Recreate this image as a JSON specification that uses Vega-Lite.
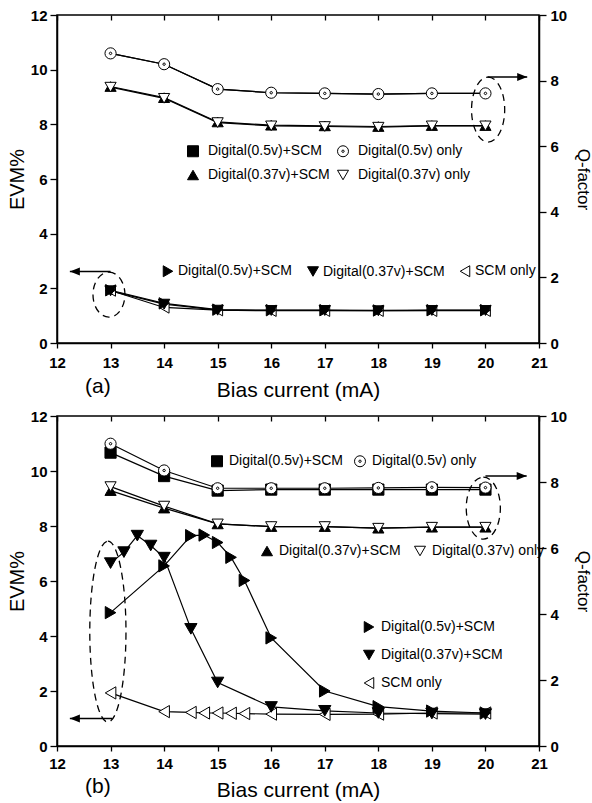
{
"$schema": "https://vega.github.io/schema/vega-lite/v6.json",
"padding": {"left": 6, "top": 7, "right": 0, "bottom": 0},
"background": "white",
"config": {
  "font": "Liberation Sans",
  "view": {"stroke": "black", "strokeWidth": 1.5},
  "axis": {"domainColor": "black", "domainWidth": 1.5, "tickColor": "black", "tickWidth": 1.3, "labelColor": "black", "labelFont": "Liberation Sans", "labelFontSize": 15, "labelFontWeight": "bold", "titleColor": "black", "titleFont": "Liberation Sans", "titleFontSize": 21, "titleFontWeight": "normal", "grid": false, "labelFlush": false, "labelOverlap": false},
  "legend": {"labelFont": "Liberation Sans", "labelFontSize": 14, "labelColor": "black", "symbolSize": 121, "symbolStrokeWidth": 1, "symbolStrokeColor": "black", "padding": 0}
},
"datasets": {
  "qa": [
    {"s":"Digital(0.5v)+SCM","x":13,"v":8.83},{"s":"Digital(0.5v)+SCM","x":14,"v":8.5},{"s":"Digital(0.5v)+SCM","x":15,"v":7.74},{"s":"Digital(0.5v)+SCM","x":16,"v":7.63},{"s":"Digital(0.5v)+SCM","x":17,"v":7.61},{"s":"Digital(0.5v)+SCM","x":18,"v":7.59},{"s":"Digital(0.5v)+SCM","x":19,"v":7.61},{"s":"Digital(0.5v)+SCM","x":20,"v":7.61},
    {"s":"Digital(0.5v) only","x":13,"v":8.83},{"s":"Digital(0.5v) only","x":14,"v":8.5},{"s":"Digital(0.5v) only","x":15,"v":7.74},{"s":"Digital(0.5v) only","x":16,"v":7.63},{"s":"Digital(0.5v) only","x":17,"v":7.61},{"s":"Digital(0.5v) only","x":18,"v":7.59},{"s":"Digital(0.5v) only","x":19,"v":7.61},{"s":"Digital(0.5v) only","x":20,"v":7.61},
    {"s":"Digital(0.37v)+SCM","x":13,"v":7.82},{"s":"Digital(0.37v)+SCM","x":14,"v":7.48},{"s":"Digital(0.37v)+SCM","x":15,"v":6.74},{"s":"Digital(0.37v)+SCM","x":16,"v":6.64},{"s":"Digital(0.37v)+SCM","x":17,"v":6.62},{"s":"Digital(0.37v)+SCM","x":18,"v":6.6},{"s":"Digital(0.37v)+SCM","x":19,"v":6.63},{"s":"Digital(0.37v)+SCM","x":20,"v":6.63},
    {"s":"Digital(0.37v) only","x":13,"v":7.8},{"s":"Digital(0.37v) only","x":14,"v":7.46},{"s":"Digital(0.37v) only","x":15,"v":6.72},{"s":"Digital(0.37v) only","x":16,"v":6.62},{"s":"Digital(0.37v) only","x":17,"v":6.6},{"s":"Digital(0.37v) only","x":18,"v":6.58},{"s":"Digital(0.37v) only","x":19,"v":6.62},{"s":"Digital(0.37v) only","x":20,"v":6.62}
  ],
  "ea": [
    {"s":"SCM only","x":13,"v":1.92},{"s":"SCM only","x":14,"v":1.3},{"s":"SCM only","x":15,"v":1.2},{"s":"SCM only","x":16,"v":1.18},{"s":"SCM only","x":17,"v":1.18},{"s":"SCM only","x":18,"v":1.18},{"s":"SCM only","x":19,"v":1.18},{"s":"SCM only","x":20,"v":1.18},
    {"s":"Digital(0.5v)+SCM","x":13,"v":1.93},{"s":"Digital(0.5v)+SCM","x":14,"v":1.45},{"s":"Digital(0.5v)+SCM","x":15,"v":1.22},{"s":"Digital(0.5v)+SCM","x":16,"v":1.2},{"s":"Digital(0.5v)+SCM","x":17,"v":1.2},{"s":"Digital(0.5v)+SCM","x":18,"v":1.19},{"s":"Digital(0.5v)+SCM","x":19,"v":1.2},{"s":"Digital(0.5v)+SCM","x":20,"v":1.2},
    {"s":"Digital(0.37v)+SCM","x":13,"v":1.91},{"s":"Digital(0.37v)+SCM","x":14,"v":1.42},{"s":"Digital(0.37v)+SCM","x":15,"v":1.2},{"s":"Digital(0.37v)+SCM","x":16,"v":1.19},{"s":"Digital(0.37v)+SCM","x":17,"v":1.19},{"s":"Digital(0.37v)+SCM","x":18,"v":1.18},{"s":"Digital(0.37v)+SCM","x":19,"v":1.19},{"s":"Digital(0.37v)+SCM","x":20,"v":1.19}
  ],
  "qb": [
    {"s":"Digital(0.5v)+SCM","x":13,"v":8.89},{"s":"Digital(0.5v)+SCM","x":14,"v":8.18},{"s":"Digital(0.5v)+SCM","x":15,"v":7.74},{"s":"Digital(0.5v)+SCM","x":16,"v":7.77},{"s":"Digital(0.5v)+SCM","x":17,"v":7.77},{"s":"Digital(0.5v)+SCM","x":18,"v":7.77},{"s":"Digital(0.5v)+SCM","x":19,"v":7.77},{"s":"Digital(0.5v)+SCM","x":20,"v":7.77},
    {"s":"Digital(0.5v) only","x":13,"v":9.16},{"s":"Digital(0.5v) only","x":14,"v":8.35},{"s":"Digital(0.5v) only","x":15,"v":7.81},{"s":"Digital(0.5v) only","x":16,"v":7.81},{"s":"Digital(0.5v) only","x":17,"v":7.81},{"s":"Digital(0.5v) only","x":18,"v":7.82},{"s":"Digital(0.5v) only","x":19,"v":7.84},{"s":"Digital(0.5v) only","x":20,"v":7.83},
    {"s":"Digital(0.37v)+SCM","x":13,"v":7.74},{"s":"Digital(0.37v)+SCM","x":14,"v":7.21},{"s":"Digital(0.37v)+SCM","x":15,"v":6.73},{"s":"Digital(0.37v)+SCM","x":16,"v":6.65},{"s":"Digital(0.37v)+SCM","x":17,"v":6.65},{"s":"Digital(0.37v)+SCM","x":18,"v":6.6},{"s":"Digital(0.37v)+SCM","x":19,"v":6.63},{"s":"Digital(0.37v)+SCM","x":20,"v":6.63},
    {"s":"Digital(0.37v) only","x":13,"v":7.86},{"s":"Digital(0.37v) only","x":14,"v":7.27},{"s":"Digital(0.37v) only","x":15,"v":6.73},{"s":"Digital(0.37v) only","x":16,"v":6.65},{"s":"Digital(0.37v) only","x":17,"v":6.65},{"s":"Digital(0.37v) only","x":18,"v":6.6},{"s":"Digital(0.37v) only","x":19,"v":6.63},{"s":"Digital(0.37v) only","x":20,"v":6.63}
  ],
  "eb": [
    {"s":"SCM only","x":13,"v":1.93},{"s":"SCM only","x":14,"v":1.25},{"s":"SCM only","x":14.5,"v":1.22},{"s":"SCM only","x":14.75,"v":1.2},{"s":"SCM only","x":15,"v":1.2},{"s":"SCM only","x":15.25,"v":1.19},{"s":"SCM only","x":15.5,"v":1.18},{"s":"SCM only","x":16,"v":1.16},{"s":"SCM only","x":17,"v":1.15},{"s":"SCM only","x":18,"v":1.16},{"s":"SCM only","x":19,"v":1.2},{"s":"SCM only","x":20,"v":1.2},
    {"s":"Digital(0.5v)+SCM","x":13,"v":4.85},{"s":"Digital(0.5v)+SCM","x":14,"v":6.55},{"s":"Digital(0.5v)+SCM","x":14.5,"v":7.65},{"s":"Digital(0.5v)+SCM","x":14.75,"v":7.67},{"s":"Digital(0.5v)+SCM","x":15,"v":7.4},{"s":"Digital(0.5v)+SCM","x":15.25,"v":6.86},{"s":"Digital(0.5v)+SCM","x":15.5,"v":6.02},{"s":"Digital(0.5v)+SCM","x":16,"v":3.93},{"s":"Digital(0.5v)+SCM","x":17,"v":2.0},{"s":"Digital(0.5v)+SCM","x":18,"v":1.43},{"s":"Digital(0.5v)+SCM","x":19,"v":1.27},{"s":"Digital(0.5v)+SCM","x":20,"v":1.2},
    {"s":"Digital(0.37v)+SCM","x":13,"v":6.65},{"s":"Digital(0.37v)+SCM","x":13.25,"v":7.05},{"s":"Digital(0.37v)+SCM","x":13.5,"v":7.65},{"s":"Digital(0.37v)+SCM","x":13.75,"v":7.29},{"s":"Digital(0.37v)+SCM","x":14,"v":6.85},{"s":"Digital(0.37v)+SCM","x":14.5,"v":4.26},{"s":"Digital(0.37v)+SCM","x":15,"v":2.31},{"s":"Digital(0.37v)+SCM","x":16,"v":1.42},{"s":"Digital(0.37v)+SCM","x":17,"v":1.28},{"s":"Digital(0.37v)+SCM","x":18,"v":1.2},{"s":"Digital(0.37v)+SCM","x":19,"v":1.18},{"s":"Digital(0.37v)+SCM","x":20,"v":1.16}
  ],
  "arr": [
    {"p":"a","d":"L","x":13,"x2":12.24,"v":2.62},
    {"p":"a","d":"R","x":20.04,"x2":20.78,"v":9.73},
    {"p":"b","d":"L","x":13.03,"x2":12.24,"v":1.0},
    {"p":"b","d":"R","x":20,"x2":20.77,"v":9.82}
  ],
  "ell": [
    {"p":"a","d":"L","x":12.97,"v":1.77},
    {"p":"a","d":"R","x":20.05,"v":8.54},
    {"p":"b","d":"L","x":12.95,"v":4.16},
    {"p":"b","d":"R","x":19.96,"v":8.65}
  ]
},
"spacing": 7,
"resolve": {"scale": {"x": "independent", "y": "independent", "shape": "independent", "fill": "independent", "stroke": "independent"}},
"vconcat": [
{
  "width": 482, "height": 328,
  "title": {"text": "(a)", "orient": "bottom", "anchor": "start", "frame": "group", "offset": -24, "dx": 28, "fontSize": 21, "fontWeight": "normal", "color": "black", "font": "Liberation Sans"},
  "resolve": {"scale": {"y": "independent", "shape": "independent", "fill": "independent", "stroke": "independent"}, "axis": {"x": "independent"}},
  "layer": [
    {"layer": [
      {"data": {"name": "ea"}, "mark": {"type": "line", "color": "black", "strokeWidth": 1.2},
       "encoding": {
         "x": {"field": "x", "type": "quantitative", "scale": {"domain": [12, 21], "nice": false, "zero": false},
               "axis": {"orient": "bottom", "title": "Bias current (mA)", "values": [12,12.5,13,13.5,14,14.5,15,15.5,16,16.5,17,17.5,18,18.5,19,19.5,20,20.5,21], "labelExpr": "datum.value % 1 === 0 ? format(datum.value, 'd') : ''", "tickSize": {"condition": {"test": "datum.value % 1 !== 0", "value": 3}, "value": 5}, "labelPadding": 7, "titlePadding": 9}},
         "y": {"field": "v", "type": "quantitative", "scale": {"domain": [0, 12], "nice": false, "zero": false},
               "axis": {"orient": "left", "title": "EVM%", "titleFontSize": 20, "values": [0,1,2,3,4,5,6,7,8,9,10,11,12], "labelExpr": "datum.value % 2 === 0 ? datum.label : ''", "tickSize": {"condition": {"test": "datum.value % 2 !== 0", "value": 4}, "value": 7}, "labelPadding": 3, "titlePadding": 3}},
         "detail": {"field": "s", "type": "nominal"}}},
      {"data": {"name": "ea"}, "mark": {"type": "point", "size": 130, "strokeWidth": 1, "opacity": 1},
       "encoding": {
         "x": {"field": "x", "type": "quantitative", "scale": {"domain": [12, 21], "nice": false, "zero": false}},
         "y": {"field": "v", "type": "quantitative", "scale": {"domain": [0, 12], "nice": false, "zero": false}},
         "shape": {"field": "s", "type": "nominal", "scale": {"domain": ["Digital(0.5v)+SCM","Digital(0.37v)+SCM","SCM only"], "range": ["triangle-right","triangle-down","triangle-left"]},
                   "legend": {"orient": "none", "legendX": 104, "legendY": 249, "direction": "horizontal", "columns": 3, "title": null, "columnPadding": 13, "labelOffset": 3}},
         "fill": {"field": "s", "type": "nominal", "scale": {"domain": ["Digital(0.5v)+SCM","Digital(0.37v)+SCM","SCM only"], "range": ["black","black","white"]},
                   "legend": {"orient": "none", "legendX": 104, "legendY": 249, "direction": "horizontal", "columns": 3, "title": null, "columnPadding": 13, "labelOffset": 3}},
         "stroke": {"field": "s", "type": "nominal", "scale": {"domain": ["Digital(0.5v)+SCM","Digital(0.37v)+SCM","SCM only"], "range": ["black","black","black"]},
                   "legend": {"orient": "none", "legendX": 104, "legendY": 249, "direction": "horizontal", "columns": 3, "title": null, "columnPadding": 13, "labelOffset": 3}}}},
      {"data": {"name": "arr"}, "transform": [{"filter": "datum.p === 'a'"}], "mark": {"type": "rule", "color": "black", "strokeWidth": 1.5},
       "encoding": {"x": {"field": "x", "type": "quantitative", "scale": {"domain": [12, 21], "nice": false, "zero": false}}, "x2": {"field": "x2"}, "y": {"field": "v", "type": "quantitative", "scale": {"domain": [0, 12], "nice": false, "zero": false}}}},
      {"data": {"name": "arr"}, "transform": [{"filter": "datum.p === 'a' && datum.d === 'L'"}], "mark": {"type": "point", "shape": "M0,0L1,-0.4L1,0.4Z", "size": 400, "filled": true, "color": "black", "opacity": 1},
       "encoding": {"x": {"field": "x2", "type": "quantitative", "scale": {"domain": [12, 21], "nice": false, "zero": false}}, "y": {"field": "v", "type": "quantitative", "scale": {"domain": [0, 12], "nice": false, "zero": false}}}},
      {"data": {"name": "arr"}, "transform": [{"filter": "datum.p === 'a' && datum.d === 'R'"}], "mark": {"type": "point", "shape": "M0,0L-1,-0.4L-1,0.4Z", "size": 400, "filled": true, "color": "black", "opacity": 1},
       "encoding": {"x": {"field": "x2", "type": "quantitative", "scale": {"domain": [12, 21], "nice": false, "zero": false}}, "y": {"field": "v", "type": "quantitative", "scale": {"domain": [0, 12], "nice": false, "zero": false}}}},
      {"data": {"name": "ell"}, "transform": [{"filter": "datum.p === 'a' && datum.d === 'L'"}], "mark": {"type": "point", "shape": "M0,-1A0.71,1 0 1,1 0,1A0.71,1 0 1,1 0,-1Z", "size": 2025, "filled": false, "stroke": "black", "strokeWidth": 1.3, "strokeDash": [7, 5], "opacity": 1},
       "encoding": {"x": {"field": "x", "type": "quantitative", "scale": {"domain": [12, 21], "nice": false, "zero": false}}, "y": {"field": "v", "type": "quantitative", "scale": {"domain": [0, 12], "nice": false, "zero": false}}}},
      {"data": {"name": "ell"}, "transform": [{"filter": "datum.p === 'a' && datum.d === 'R'"}], "mark": {"type": "point", "shape": "M0,-1A0.51,1 0 1,1 0,1A0.51,1 0 1,1 0,-1Z", "size": 4225, "filled": false, "stroke": "black", "strokeWidth": 1.3, "strokeDash": [7, 5], "opacity": 1},
       "encoding": {"x": {"field": "x", "type": "quantitative", "scale": {"domain": [12, 21], "nice": false, "zero": false}}, "y": {"field": "v", "type": "quantitative", "scale": {"domain": [0, 12], "nice": false, "zero": false}}}}
    ]},
    {"layer": [
      {"data": {"name": "qa"}, "mark": {"type": "line", "color": "black", "strokeWidth": 1.2},
       "encoding": {
         "x": {"field": "x", "type": "quantitative", "scale": {"domain": [12, 21], "nice": false, "zero": false},
               "axis": {"orient": "top", "title": null, "labels": false, "domain": false, "values": [12,12.5,13,13.5,14,14.5,15,15.5,16,16.5,17,17.5,18,18.5,19,19.5,20,20.5,21], "tickSize": {"condition": {"test": "datum.value % 1 !== 0", "value": -3}, "value": -5}}},
         "y": {"field": "v", "type": "quantitative", "scale": {"domain": [0, 10], "nice": false, "zero": false},
               "axis": {"orient": "right", "title": "Q-factor", "values": [0,1,2,3,4,5,6,7,8,9,10], "labelExpr": "datum.value % 2 === 0 ? datum.label : ''", "tickSize": {"condition": {"test": "datum.value % 2 !== 0", "value": 4}, "value": 7}, "labelPadding": 4, "titlePadding": 7, "titleFontSize": 17}},
         "detail": {"field": "s", "type": "nominal"}}},
      {"data": {"name": "qa"}, "transform": [{"filter": "datum.s === 'Digital(0.5v)+SCM'"}], "mark": {"type": "point", "size": 50, "strokeWidth": 1, "opacity": 1},
       "encoding": {
         "x": {"field": "x", "type": "quantitative", "scale": {"domain": [12, 21], "nice": false, "zero": false}},
         "y": {"field": "v", "type": "quantitative", "scale": {"domain": [0, 10], "nice": false, "zero": false}},
         "shape": {"field": "s", "type": "nominal", "scale": {"domain": ["Digital(0.5v)+SCM","Digital(0.5v) only","Digital(0.37v)+SCM","Digital(0.37v) only"], "range": ["square","M1,0A1,1 0 1,1 -1,0A1,1 0 1,1 1,0ZM0.22,0A0.22,0.22 0 1,1 -0.22,0A0.22,0.22 0 1,1 0.22,0Z","triangle-up","triangle-down"]},
                   "legend": {"orient": "none", "legendX": 129, "legendY": 129, "direction": "horizontal", "columns": 2, "title": null, "rowPadding": 9, "columnPadding": 5, "labelOffset": 8}},
         "fill": {"field": "s", "type": "nominal", "scale": {"domain": ["Digital(0.5v)+SCM","Digital(0.5v) only","Digital(0.37v)+SCM","Digital(0.37v) only"], "range": ["black","white","black","white"]},
                   "legend": {"orient": "none", "legendX": 129, "legendY": 129, "direction": "horizontal", "columns": 2, "title": null, "rowPadding": 9, "columnPadding": 5, "labelOffset": 8}},
         "stroke": {"field": "s", "type": "nominal", "scale": {"domain": ["Digital(0.5v)+SCM","Digital(0.5v) only","Digital(0.37v)+SCM","Digital(0.37v) only"], "range": ["black","black","black","black"]},
                   "legend": {"orient": "none", "legendX": 129, "legendY": 129, "direction": "horizontal", "columns": 2, "title": null, "rowPadding": 9, "columnPadding": 5, "labelOffset": 8}}}},
      {"data": {"name": "qa"}, "transform": [{"filter": "datum.s !== 'Digital(0.5v)+SCM'"}], "mark": {"type": "point", "size": 125, "strokeWidth": 1, "opacity": 1},
       "encoding": {
         "x": {"field": "x", "type": "quantitative", "scale": {"domain": [12, 21], "nice": false, "zero": false}},
         "y": {"field": "v", "type": "quantitative", "scale": {"domain": [0, 10], "nice": false, "zero": false}},
         "shape": {"field": "s", "type": "nominal", "scale": {"domain": ["Digital(0.5v)+SCM","Digital(0.5v) only","Digital(0.37v)+SCM","Digital(0.37v) only"], "range": ["square","M1,0A1,1 0 1,1 -1,0A1,1 0 1,1 1,0ZM0.22,0A0.22,0.22 0 1,1 -0.22,0A0.22,0.22 0 1,1 0.22,0Z","triangle-up","triangle-down"]},
                   "legend": {"orient": "none", "legendX": 129, "legendY": 129, "direction": "horizontal", "columns": 2, "title": null, "rowPadding": 9, "columnPadding": 5, "labelOffset": 8}},
         "fill": {"field": "s", "type": "nominal", "scale": {"domain": ["Digital(0.5v)+SCM","Digital(0.5v) only","Digital(0.37v)+SCM","Digital(0.37v) only"], "range": ["black","white","black","white"]},
                   "legend": {"orient": "none", "legendX": 129, "legendY": 129, "direction": "horizontal", "columns": 2, "title": null, "rowPadding": 9, "columnPadding": 5, "labelOffset": 8}},
         "stroke": {"field": "s", "type": "nominal", "scale": {"domain": ["Digital(0.5v)+SCM","Digital(0.5v) only","Digital(0.37v)+SCM","Digital(0.37v) only"], "range": ["black","black","black","black"]},
                   "legend": {"orient": "none", "legendX": 129, "legendY": 129, "direction": "horizontal", "columns": 2, "title": null, "rowPadding": 9, "columnPadding": 5, "labelOffset": 8}}}}
    ]}
  ]
},
{
  "width": 482, "height": 330,
  "title": {"text": "(b)", "orient": "bottom", "anchor": "start", "frame": "group", "offset": -24, "dx": 28, "fontSize": 21, "fontWeight": "normal", "color": "black", "font": "Liberation Sans"},
  "resolve": {"scale": {"y": "independent", "shape": "independent", "fill": "independent", "stroke": "independent"}, "axis": {"x": "independent"}},
  "layer": [
    {"layer": [
      {"data": {"name": "eb"}, "mark": {"type": "line", "color": "black", "strokeWidth": 1.2},
       "encoding": {
         "x": {"field": "x", "type": "quantitative", "scale": {"domain": [12, 21], "nice": false, "zero": false},
               "axis": {"orient": "bottom", "title": "Bias current (mA)", "values": [12,12.5,13,13.5,14,14.5,15,15.5,16,16.5,17,17.5,18,18.5,19,19.5,20,20.5,21], "labelExpr": "datum.value % 1 === 0 ? format(datum.value, 'd') : ''", "tickSize": {"condition": {"test": "datum.value % 1 !== 0", "value": 3}, "value": 5}, "labelPadding": 5, "titlePadding": 8}},
         "y": {"field": "v", "type": "quantitative", "scale": {"domain": [0, 12], "nice": false, "zero": false},
               "axis": {"orient": "left", "title": "EVM%", "titleFontSize": 20, "values": [0,1,2,3,4,5,6,7,8,9,10,11,12], "labelExpr": "datum.value % 2 === 0 ? datum.label : ''", "tickSize": {"condition": {"test": "datum.value % 2 !== 0", "value": 4}, "value": 7}, "labelPadding": 3, "titlePadding": 3}},
         "detail": {"field": "s", "type": "nominal"}}},
      {"data": {"name": "eb"}, "mark": {"type": "point", "size": 150, "strokeWidth": 1, "opacity": 1},
       "encoding": {
         "x": {"field": "x", "type": "quantitative", "scale": {"domain": [12, 21], "nice": false, "zero": false}},
         "y": {"field": "v", "type": "quantitative", "scale": {"domain": [0, 12], "nice": false, "zero": false}},
         "shape": {"field": "s", "type": "nominal", "scale": {"domain": ["Digital(0.5v)+SCM","Digital(0.37v)+SCM","SCM only"], "range": ["triangle-right","triangle-down","triangle-left"]},
                   "legend": {"orient": "none", "legendX": 305, "legendY": 204, "direction": "vertical", "title": null, "rowPadding": 13, "labelOffset": 5}},
         "fill": {"field": "s", "type": "nominal", "scale": {"domain": ["Digital(0.5v)+SCM","Digital(0.37v)+SCM","SCM only"], "range": ["black","black","white"]},
                   "legend": {"orient": "none", "legendX": 305, "legendY": 204, "direction": "vertical", "title": null, "rowPadding": 13, "labelOffset": 5}},
         "stroke": {"field": "s", "type": "nominal", "scale": {"domain": ["Digital(0.5v)+SCM","Digital(0.37v)+SCM","SCM only"], "range": ["black","black","black"]},
                   "legend": {"orient": "none", "legendX": 305, "legendY": 204, "direction": "vertical", "title": null, "rowPadding": 13, "labelOffset": 5}}}},
      {"data": {"name": "arr"}, "transform": [{"filter": "datum.p === 'b'"}], "mark": {"type": "rule", "color": "black", "strokeWidth": 1.5},
       "encoding": {"x": {"field": "x", "type": "quantitative", "scale": {"domain": [12, 21], "nice": false, "zero": false}}, "x2": {"field": "x2"}, "y": {"field": "v", "type": "quantitative", "scale": {"domain": [0, 12], "nice": false, "zero": false}}}},
      {"data": {"name": "arr"}, "transform": [{"filter": "datum.p === 'b' && datum.d === 'L'"}], "mark": {"type": "point", "shape": "M0,0L1,-0.4L1,0.4Z", "size": 400, "filled": true, "color": "black", "opacity": 1},
       "encoding": {"x": {"field": "x2", "type": "quantitative", "scale": {"domain": [12, 21], "nice": false, "zero": false}}, "y": {"field": "v", "type": "quantitative", "scale": {"domain": [0, 12], "nice": false, "zero": false}}}},
      {"data": {"name": "arr"}, "transform": [{"filter": "datum.p === 'b' && datum.d === 'R'"}], "mark": {"type": "point", "shape": "M0,0L-1,-0.4L-1,0.4Z", "size": 400, "filled": true, "color": "black", "opacity": 1},
       "encoding": {"x": {"field": "x2", "type": "quantitative", "scale": {"domain": [12, 21], "nice": false, "zero": false}}, "y": {"field": "v", "type": "quantitative", "scale": {"domain": [0, 12], "nice": false, "zero": false}}}},
      {"data": {"name": "ell"}, "transform": [{"filter": "datum.p === 'b' && datum.d === 'L'"}], "mark": {"type": "point", "shape": "M0,-1A0.2,1 0 1,1 0,1A0.2,1 0 1,1 0,-1Z", "size": 32761, "filled": false, "stroke": "black", "strokeWidth": 1.3, "strokeDash": [7, 5], "opacity": 1},
       "encoding": {"x": {"field": "x", "type": "quantitative", "scale": {"domain": [12, 21], "nice": false, "zero": false}}, "y": {"field": "v", "type": "quantitative", "scale": {"domain": [0, 12], "nice": false, "zero": false}}}},
      {"data": {"name": "ell"}, "transform": [{"filter": "datum.p === 'b' && datum.d === 'R'"}], "mark": {"type": "point", "shape": "M0,-1A0.55,1 0 1,1 0,1A0.55,1 0 1,1 0,-1Z", "size": 3844, "filled": false, "stroke": "black", "strokeWidth": 1.3, "strokeDash": [7, 5], "opacity": 1},
       "encoding": {"x": {"field": "x", "type": "quantitative", "scale": {"domain": [12, 21], "nice": false, "zero": false}}, "y": {"field": "v", "type": "quantitative", "scale": {"domain": [0, 12], "nice": false, "zero": false}}}}
    ]},
    {"resolve": {"scale": {"shape": "independent", "fill": "independent", "stroke": "independent"}},
     "layer": [
      {"data": {"name": "qb"}, "mark": {"type": "line", "color": "black", "strokeWidth": 1.2},
       "encoding": {
         "x": {"field": "x", "type": "quantitative", "scale": {"domain": [12, 21], "nice": false, "zero": false},
               "axis": {"orient": "top", "title": null, "labels": false, "domain": false, "values": [12,12.5,13,13.5,14,14.5,15,15.5,16,16.5,17,17.5,18,18.5,19,19.5,20,20.5,21], "tickSize": {"condition": {"test": "datum.value % 1 !== 0", "value": -3}, "value": -5}}},
         "y": {"field": "v", "type": "quantitative", "scale": {"domain": [0, 10], "nice": false, "zero": false},
               "axis": {"orient": "right", "title": "Q-factor", "values": [0,1,2,3,4,5,6,7,8,9,10], "labelExpr": "datum.value % 2 === 0 ? datum.label : ''", "tickSize": {"condition": {"test": "datum.value % 2 !== 0", "value": 4}, "value": 7}, "labelPadding": 4, "titlePadding": 7, "titleFontSize": 17}},
         "detail": {"field": "s", "type": "nominal"}}},
      {"data": {"name": "qb"}, "transform": [{"filter": {"field": "s", "oneOf": ["Digital(0.5v)+SCM", "Digital(0.5v) only"]}}], "mark": {"type": "point", "size": 125, "strokeWidth": 1, "opacity": 1},
       "encoding": {
         "x": {"field": "x", "type": "quantitative", "scale": {"domain": [12, 21], "nice": false, "zero": false}},
         "y": {"field": "v", "type": "quantitative", "scale": {"domain": [0, 10], "nice": false, "zero": false}},
         "shape": {"field": "s", "type": "nominal", "scale": {"domain": ["Digital(0.5v)+SCM","Digital(0.5v) only"], "range": ["square","M1,0A1,1 0 1,1 -1,0A1,1 0 1,1 1,0ZM0.22,0A0.22,0.22 0 1,1 -0.22,0A0.22,0.22 0 1,1 0.22,0Z"]},
                   "legend": {"orient": "none", "legendX": 153, "legendY": 38, "direction": "horizontal", "title": null, "columnPadding": 9, "labelOffset": 5}},
         "fill": {"field": "s", "type": "nominal", "scale": {"domain": ["Digital(0.5v)+SCM","Digital(0.5v) only"], "range": ["black","white"]},
                   "legend": {"orient": "none", "legendX": 153, "legendY": 38, "direction": "horizontal", "title": null, "columnPadding": 9, "labelOffset": 5}},
         "stroke": {"field": "s", "type": "nominal", "scale": {"domain": ["Digital(0.5v)+SCM","Digital(0.5v) only"], "range": ["black","black"]},
                   "legend": {"orient": "none", "legendX": 153, "legendY": 38, "direction": "horizontal", "title": null, "columnPadding": 9, "labelOffset": 5}}}},
      {"data": {"name": "qb"}, "transform": [{"filter": {"field": "s", "oneOf": ["Digital(0.37v)+SCM", "Digital(0.37v) only"]}}], "mark": {"type": "point", "size": 125, "strokeWidth": 1, "opacity": 1},
       "encoding": {
         "x": {"field": "x", "type": "quantitative", "scale": {"domain": [12, 21], "nice": false, "zero": false}},
         "y": {"field": "v", "type": "quantitative", "scale": {"domain": [0, 10], "nice": false, "zero": false}},
         "shape": {"field": "s", "type": "nominal", "scale": {"domain": ["Digital(0.37v)+SCM","Digital(0.37v) only"], "range": ["triangle-up","triangle-down"]},
                   "legend": {"orient": "none", "legendX": 203, "legendY": 128, "direction": "horizontal", "title": null, "columnPadding": 11, "labelOffset": 5}},
         "fill": {"field": "s", "type": "nominal", "scale": {"domain": ["Digital(0.37v)+SCM","Digital(0.37v) only"], "range": ["black","white"]},
                   "legend": {"orient": "none", "legendX": 203, "legendY": 128, "direction": "horizontal", "title": null, "columnPadding": 11, "labelOffset": 5}},
         "stroke": {"field": "s", "type": "nominal", "scale": {"domain": ["Digital(0.37v)+SCM","Digital(0.37v) only"], "range": ["black","black"]},
                   "legend": {"orient": "none", "legendX": 203, "legendY": 128, "direction": "horizontal", "title": null, "columnPadding": 11, "labelOffset": 5}}}}
    ]}
  ]
}
]
}
